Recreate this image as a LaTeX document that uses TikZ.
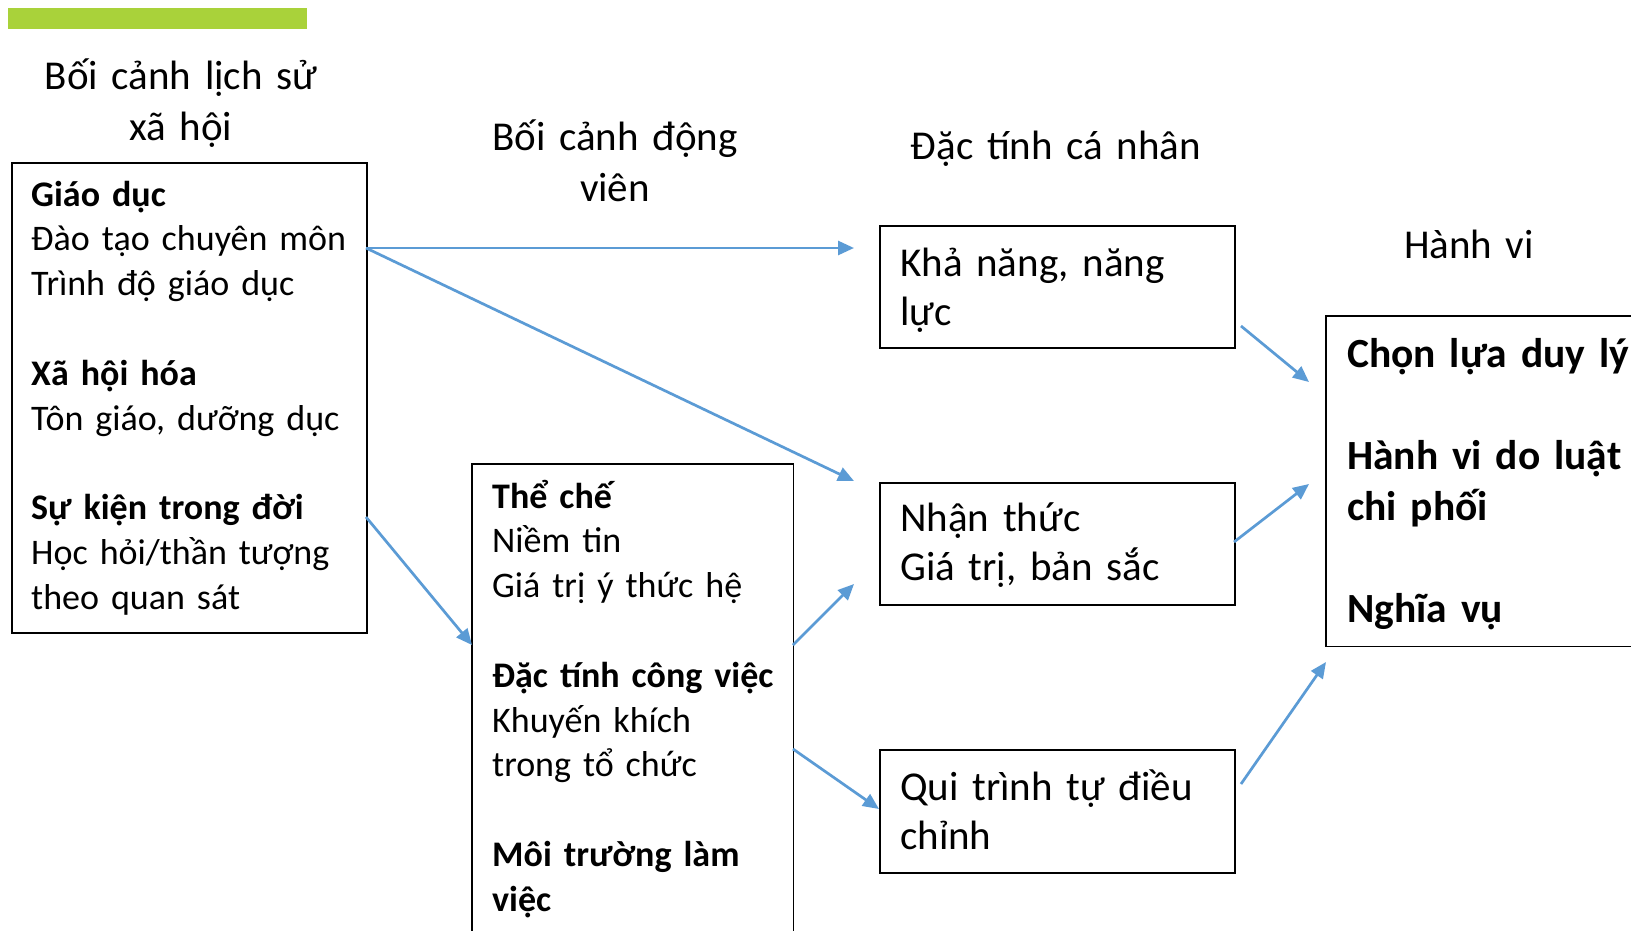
\documentclass[tikz,border=0pt]{standalone}
\usepackage{fontspec}
\setmainfont{Carlito}
\usetikzlibrary{arrows.meta}
\definecolor{arrowblue}{HTML}{5B9BD5}
\definecolor{bargreen}{HTML}{A9D23A}
\begin{document}
\begin{tikzpicture}[x=1pt,y=-1pt,
  boxshape/.style={draw=black,line width=1.5pt,anchor=north west,inner sep=0pt},
  openbox/.style={anchor=north west,inner sep=0pt},
  bodytext/.style={anchor=base west,inner sep=0pt,text width=420pt,align=left,font=\fontsize{36}{44.8}\selectfont},
  bigtext/.style={anchor=base west,inner sep=0pt,text width=420pt,align=left,font=\fontsize{41}{49}\selectfont},
  headtext/.style={anchor=base,inner sep=0pt,text width=420pt,align=center,font=\fontsize{41}{51}\selectfont},
  conn/.style={draw=arrowblue,line width=2.7pt,-{Triangle[length=16pt,width=14pt]}}]
\useasboundingbox (0,0) rectangle (1631,930);
\fill[white] (0,0) rectangle (1631,930);
% green bar
\fill[bargreen] (8,8) rectangle (307,29);
% headers
\node[headtext] (h1) at (181,89) {Bối cảnh lịch sử\\xã hội};
\node[headtext] (h2) at (615,150) {Bối cảnh động\\viên};
\node[headtext] (h3) at (1056,159) {Đặc tính cá nhân};
\node[headtext] (h4) at (1469,258) {Hành vi};
% boxes
\node[boxshape,minimum width=355pt,minimum height=470pt] (leftbox) at (11,162) {};
\node[openbox,minimum width=321pt,minimum height=469pt] (midbox) at (472,464) {};
\draw[line width=1.5pt] (midbox.south west) -- (midbox.north west) -- (midbox.north east) -- (midbox.south east);
\node[boxshape,minimum width=355pt,minimum height=122pt] (kbox) at (879,225) {};
\node[boxshape,minimum width=355pt,minimum height=122pt] (nbox) at (879,482) {};
\node[boxshape,minimum width=355pt,minimum height=123pt] (qbox) at (879,749) {};
\node[openbox,minimum width=310pt,minimum height=330pt] (rbox) at (1326,316) {};
\draw[line width=1.5pt] (rbox.north east) -- (rbox.north west) -- (rbox.south west) -- (rbox.south east);
% texts
\node[bodytext] (lefttext) at (31,206) {\textbf{Giáo dục}\\Đào tạo chuyên môn\\Trình độ giáo dục\\[44.8pt]\textbf{Xã hội hóa}\\Tôn giáo, dưỡng dục\\[44.8pt]\textbf{Sự kiện trong đời}\\Học hỏi/thần tượng\\theo quan sát};
\node[bodytext] (midtext) at (492,508) {\textbf{Thể chế}\\Niềm tin\\Giá trị ý thức hệ\\[44.8pt]\textbf{Đặc tính công việc}\\Khuyến khích\\trong tổ chức\\[44.8pt]\textbf{Môi trường làm}\\\textbf{việc}};
\node[bigtext] (ktext) at (900,276) {Khả năng, năng\\lực};
\node[bigtext] (ntext) at (900,531) {Nhận thức\\Giá trị, bản sắc};
\node[bigtext] (qtext) at (900,800) {Qui trình tự điều\\chỉnh};
\node[anchor=base west,inner sep=0pt,text width=420pt,align=left,font=\fontsize{41.5}{51}\selectfont\bfseries] (rtext) at (1347,367) {Chọn lựa duy lý\\[51pt]Hành vi do luật\\chi phối\\[51pt]Nghĩa vụ};
% connector end points
\coordinate (a1s) at (366,248);
\coordinate (a1e) at (854,248);
\coordinate (a2e) at (854,481);
\coordinate (a3s) at (366,517);
\coordinate (a3e) at (472,645);
\coordinate (a4s) at (793,645);
\coordinate (a4e) at (854,584);
\coordinate (a5s) at (793,749);
\coordinate (a5e) at (879,809);
\coordinate (a6s) at (1241,326);
\coordinate (a6e) at (1309,382);
\coordinate (a7s) at (1234,542);
\coordinate (a7e) at (1309,484);
\coordinate (a8s) at (1241,784);
\coordinate (a8e) at (1326,662);
% connectors
\draw[conn] (a1s) -- (a1e);
\draw[conn] (a1s) -- (a2e);
\draw[conn] (a3s) -- (a3e);
\draw[conn] (a4s) -- (a4e);
\draw[conn] (a5s) -- (a5e);
\draw[conn] (a6s) -- (a6e);
\draw[conn] (a7s) -- (a7e);
\draw[conn] (a8s) -- (a8e);
\end{tikzpicture}
\end{document}
